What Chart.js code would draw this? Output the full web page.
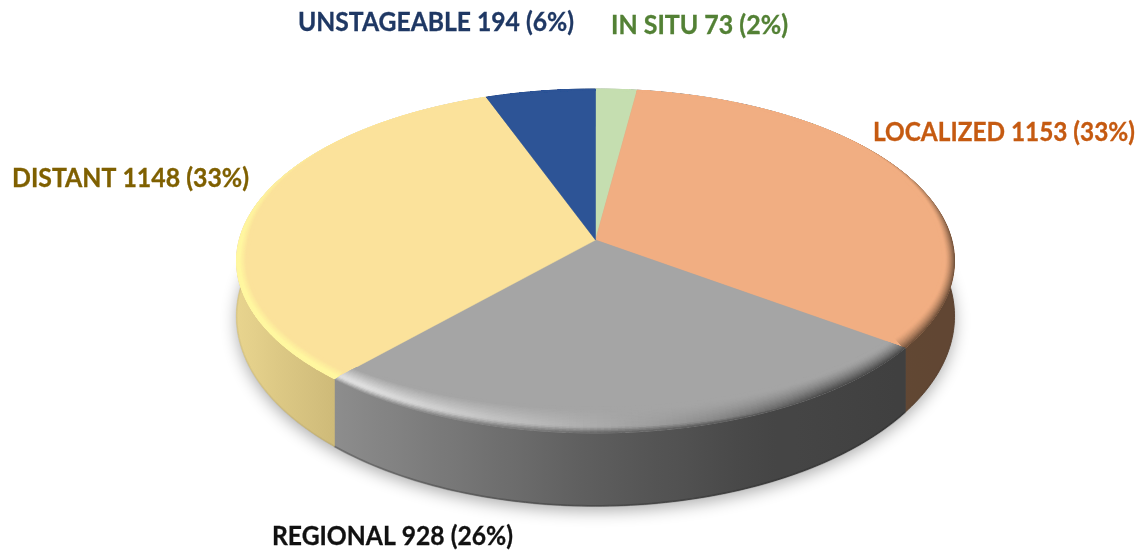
<!DOCTYPE html>
<html>
<head>
<meta charset="utf-8">
<title>Stage at diagnosis</title>
<script src="https://cdn.jsdelivr.net/npm/chart.js@4"></script>
<style>
  html, body { margin: 0; background: #fff; }
  canvas { display: block; }
</style>
</head>
<body>
<canvas id="pie" width="1143" height="554"></canvas>
<script>
// order is clockwise from 12 o'clock
const categories = ['IN SITU', 'LOCALIZED', 'REGIONAL', 'DISTANT', 'UNSTAGEABLE'];
const counts = [73, 1153, 928, 1148, 194];
const percents = [2, 33, 26, 33, 6];

const faceColors = ['#c5deb0', '#f1ae82', '#a5a5a5', '#fbe29b', '#2d5496'];
const lightColors = [null, null, '#dedede', '#fff7a0', null];
const textColors = ['#538135', '#c55a11', '#111111', '#7f6000', '#1f3864'];
// wall shading left to right, [x, colour]
const wallStops = [
  [[596, '#8fa880'], [640, '#8fa880']],
  [[640, '#6a4c37'], [953, '#604633']],
  [[335, '#8d8d8d'], [470, '#747474'], [600, '#5c5c5c'], [760, '#464646'], [905, '#404040']],
  [[236, '#e8d48e'], [338, '#cdb978']],
  [[488, '#223f70'], [596, '#223f70']]
];
// [left, baseline, width] of each label
const labelBoxes = [[611, 34, 177], [873, 141, 262], [272, 545, 241], [12, 187, 237], [298, 31, 276]];

// projected disc: apex sits above the middle of the ellipse
const CX = 595.5, RX = 356.3, K = 0.122;
const TOP_Y = 240, TOP_B = 169.4;
const BOT_Y = 293, BOT_B = 187;
const STEP = Math.PI / 180;

function project(theta, r, bottom) {
  const u = Math.sin(theta) * r;
  const v = -Math.cos(theta) * r;
  const w = 1 - K * v;
  return [CX + RX * u / w, (bottom ? BOT_Y : TOP_Y) + (bottom ? BOT_B : TOP_B) * v / w];
}

function hexToRgb(hex) {
  return [1, 3, 5].map(i => parseInt(hex.slice(i, i + 2), 16));
}

function mix(a, b, t) {
  return a.map((c, i) => c + (b[i] - c) * t);
}

function clamp(x) {
  return Math.max(0, Math.min(1, x));
}

function wallColorAt(i, x) {
  const stops = wallStops[i];
  if (x <= stops[0][0]) return hexToRgb(stops[0][1]);
  for (let n = 1; n < stops.length; n++) {
    if (x <= stops[n][0]) {
      const t = (x - stops[n - 1][0]) / (stops[n][0] - stops[n - 1][0]);
      return mix(hexToRgb(stops[n - 1][1]), hexToRgb(stops[n][1]), t);
    }
  }
  return hexToRgb(stops[stops.length - 1][1]);
}

function sweep(a0, a1, fn) {
  const n = Math.max(1, Math.ceil(Math.abs(a1 - a0) / STEP));
  for (let k = 0; k <= n; k++) fn(a0 + (a1 - a0) * k / n);
}

function facePath(ctx, a0, a1) {
  ctx.beginPath();
  ctx.moveTo(CX, TOP_Y);
  sweep(a0, a1, t => ctx.lineTo(...project(t, 1, false)));
  ctx.closePath();
}

function drawShadow(ctx) {
  ctx.save();
  ctx.shadowColor = 'rgba(0,0,0,0.32)';
  ctx.shadowBlur = 16;
  ctx.shadowOffsetY = 5;
  ctx.fillStyle = '#999';
  ctx.beginPath();
  sweep(0, Math.PI * 2, t => ctx.lineTo(...project(t, 1, true)));
  ctx.closePath();
  ctx.fill();
  ctx.restore();
}

function drawWall(ctx, i, a0, a1) {
  const grad = ctx.createLinearGradient(236, 0, 953, 0);
  for (let x = 236; x <= 953; x += 20) {
    const c = wallColorAt(i, x);
    grad.addColorStop((x - 236) / 717, `rgb(${c.map(Math.round).join(',')})`);
  }
  ctx.beginPath();
  sweep(a0, a1, t => ctx.lineTo(...project(t, 1, false)));
  sweep(a1, a0, t => ctx.lineTo(...project(t, 1, true)));
  ctx.closePath();
  ctx.fillStyle = grad;
  ctx.fill();
  ctx.strokeStyle = grad;
  ctx.lineWidth = 1;
  ctx.stroke();

  // thin dark lip along the bottom of the wall
  ctx.beginPath();
  sweep(a0, a1, t => ctx.lineTo(...project(t, 1, true)));
  ctx.strokeStyle = i === 2 ? 'rgba(30,30,30,0.28)' : 'rgba(30,30,30,0.06)';
  ctx.lineWidth = 2;
  ctx.stroke();
}

function bevelPoint(t, s, lift) {
  const v = -Math.cos(t);
  const widthF = clamp(1 + v * 1.1);
  const p = project(t, 1 - 0.03 * s * widthF, false);
  p[1] -= lift * s * Math.pow(Math.max(0, v), 1.5);
  return p;
}

function drawBevel(ctx, i, a0, a1) {
  const base = hexToRgb(faceColors[i]);
  const light = lightColors[i] ? hexToRgb(lightColors[i]) : null;
  const lift = i === 3 ? 8 : 18;
  ctx.save();
  facePath(ctx, a0, a1);
  ctx.clip();
  ctx.lineWidth = 3;
  ctx.lineCap = 'square';
  const rings = 16;
  for (let r = 0; r <= rings; r++) {
    const s = r / rings;
    let prev = null;
    sweep(a0, a1, t => {
      const p = bevelPoint(t, s, lift);
      if (prev) {
        const strength = clamp(1 + (-Math.cos(t)) * 1.1);
        let c = base;
        if (light) {
          const fade = i === 3 ? 1 : clamp((620 - p[0]) / 260);
          const bump = s < 0.4 ? 1 : 1 - (s - 0.4) / 0.6;
          c = mix(c, light, fade * bump);
        }
        const edge = i === 2 ? clamp(1 - s / 0.28) : 0;
        const side = i === 3 ? 0 : clamp((p[0] - 620) / 200) * Math.pow(1 - s, 1.5);
        c = mix(c, wallColorAt(i, p[0]), Math.max(edge, side));
        c = mix(base, c, strength);
        ctx.strokeStyle = `rgb(${c.map(Math.round).join(',')})`;
        ctx.beginPath();
        ctx.moveTo(...prev);
        ctx.lineTo(...p);
        ctx.stroke();
      }
      prev = p;
    });
  }
  ctx.restore();
}

const pie3d = {
  id: 'pie3d',
  beforeDatasetsDraw(chart) {
    const ctx = chart.ctx;
    // slice angles come from the doughnut controller, 0 = 12 o'clock here
    const arcs = chart.getDatasetMeta(0).data.map(a => [a.startAngle + Math.PI / 2, a.endAngle + Math.PI / 2]);
    drawShadow(ctx);
    arcs.forEach(([a0, a1], i) => drawWall(ctx, i, a0, a1));
    arcs.forEach(([a0, a1], i) => {
      facePath(ctx, a0, a1);
      ctx.fillStyle = faceColors[i];
      ctx.fill();
      ctx.strokeStyle = faceColors[i];
      ctx.lineWidth = 0.5;
      ctx.stroke();
    });
    arcs.forEach(([a0, a1], i) => drawBevel(ctx, i, a0, a1));
    return false;
  },
  afterDraw(chart) {
    const ctx = chart.ctx;
    ctx.save();
    ctx.font = 'bold 26px Lato, "Open Sans", sans-serif';
    ctx.textBaseline = 'alphabetic';
    ctx.lineWidth = 0.3;
    categories.forEach((name, i) => {
      const [x, y, w] = labelBoxes[i];
      const text = `${name} ${counts[i]} (${percents[i]}%)`;
      ctx.fillStyle = textColors[i];
      ctx.strokeStyle = textColors[i];
      ctx.fillText(text, x, y, w);
      ctx.strokeText(text, x, y, w);
    });
    ctx.restore();
  }
};

new Chart(document.getElementById('pie'), {
  type: 'pie',
  data: {
    labels: categories,
    datasets: [{ data: counts, backgroundColor: faceColors, borderWidth: 0 }]
  },
  options: {
    responsive: false,
    animation: false,
    plugins: { legend: { display: false }, tooltip: { enabled: false } }
  },
  plugins: [pie3d]
});
</script>
</body>
</html>
